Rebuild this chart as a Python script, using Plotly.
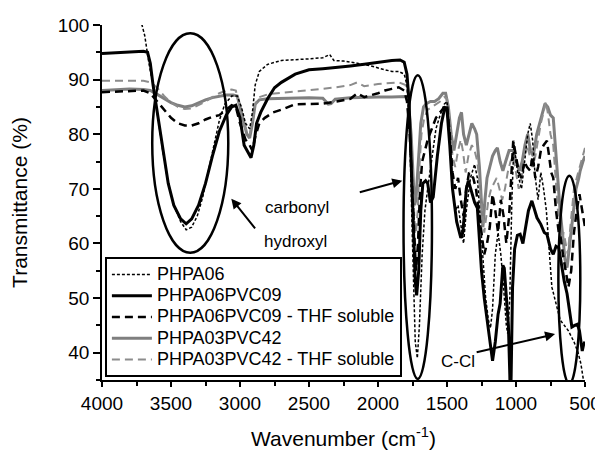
import plotly.graph_objects as go

# ---------------- data ----------------
phpa06_wn = [4000,3740,3710,3690,3660,3630,3600,3560,3520,3480,3430,3390,3350,3310,3270,3230,3190,3150,3110,3060,3020,2990,2960,2930,2910,2890,2860,2800,2700,2600,2500,2400,2350,2320,2250,2150,2050,1980,1900,1850,1810,1790,1770,1750,1730,1715,1700,1680,1660,1640,1610,1580,1550,1520,1500,1480,1460,1440,1420,1400,1380,1360,1330,1300,1280,1260,1240,1220,1200,1185,1170,1150,1130,1110,1090,1070,1060,1045,1030,1015,1000,980,960,940,915,897,880,860,840,820,800,780,760,740,720,700,680,650,620,580,550,530,515,505]
phpa06_t = [101,100.5,100,98,93,89,84,77,71,67,64,62.5,63,65,68.5,73,78,82.5,85.5,87,87,85,82,81,84,89,91.5,92.8,93.5,93.6,93.8,94,94.6,93.5,93.4,93,92.5,92,91.5,91.5,91,89,80,60,42,39,45,58,66,70,76,81,83.5,85.5,86,80,70,66,67,63,60,66,72,74.5,72,65,58,50,46,44.5,48,58,62,58,52,45,43.5,50,68,78.5,75,72,70,74,80,82,79,72,68,73,70,66,58,52,50,48,46,45,44,42,40,38,36,34]

pvc09_wn = [4000,3900,3800,3700,3670,3650,3630,3600,3560,3520,3480,3430,3390,3350,3300,3250,3200,3150,3100,3060,3030,3000,2970,2940,2920,2900,2880,2850,2800,2750,2700,2600,2500,2400,2300,2200,2100,2000,1900,1840,1810,1790,1775,1760,1745,1730,1720,1705,1690,1675,1655,1640,1620,1600,1570,1540,1515,1500,1480,1460,1430,1400,1385,1360,1345,1320,1300,1280,1265,1250,1230,1210,1190,1170,1150,1130,1115,1095,1085,1070,1055,1045,1040,1035,1025,1010,990,970,950,930,910,885,865,848,820,795,776,750,730,710,690,670,650,630,610,595,575,555,540,520,510,500]
pvc09_t = [94.8,94.9,95,95.2,95,93,89,84,77,71,67,64.5,63.6,64.5,67,71,76,80.5,83.5,85,85.3,83,78,76.5,75.7,78,82,84,86.5,88.5,89.5,91,91.8,92,92.2,92.5,92.8,93.2,93.5,93.6,93.2,91,86,75,62,53,50.5,55,66,71,71.5,71,67.5,68.5,76,82,85,84.5,78,70,64,61,62,70,71.5,69,67.5,66.5,60,55,50,46,42,38.5,42,47,49,56,55.5,51,45,36,30,36,52,59,61.5,61.7,60,63,66,67.8,66,64.7,63.5,62,61.7,59,58,59.5,59.2,56,53,50.8,47,44.7,45,45.2,44,40.3,41.5,42]

pvc09thf_wn = [4000,3900,3800,3700,3650,3600,3550,3500,3450,3400,3350,3300,3250,3200,3150,3100,3060,3030,3000,2960,2930,2910,2890,2860,2820,2760,2700,2600,2500,2400,2300,2200,2150,2100,2000,1950,1900,1850,1810,1790,1770,1750,1735,1725,1710,1695,1680,1660,1640,1610,1580,1550,1520,1500,1480,1460,1440,1420,1400,1380,1360,1340,1310,1290,1270,1250,1230,1210,1190,1170,1150,1130,1110,1090,1070,1050,1035,1020,1000,980,960,940,920,897,880,860,840,820,800,776,760,745,730,710,690,680,660,640,620,600,580,560,540,520,505,500]
pvc09thf_t = [87.7,87.8,88,88,87.5,86,84.5,83,82,81.6,81.6,82,82.7,83.2,83.5,84.5,85.3,85,82,79,78,77,79.5,82,83,84,84.5,85.5,85.6,85.6,86,86.5,87.5,86.8,87.5,88,88.3,88.6,88,86,80,68,58,55,60,70,75,77,79,81,83,84,85,85.5,80,73,70,72,68,65,70,73,72,70,66,62,58,60,63,69,66,62,68,65,60,65,73,78.8,76,73,72,75,74,73.3,76,72,74,77,78,78.8,76,73,72,66,62,61.7,58,55,52,55,62,66,69,66,64,63]

pvc42_wn = [4000,3900,3800,3700,3650,3600,3550,3500,3450,3400,3350,3300,3250,3200,3150,3100,3050,3020,3000,2970,2950,2930,2910,2890,2860,2800,2700,2600,2500,2400,2360,2340,2310,2200,2100,2000,1900,1800,1780,1760,1745,1735,1725,1710,1690,1670,1650,1620,1590,1560,1530,1510,1490,1470,1450,1430,1410,1395,1380,1360,1340,1320,1300,1285,1265,1250,1240,1225,1210,1190,1170,1150,1135,1115,1095,1075,1050,1020,1000,975,955,935,915,895,875,850,830,810,790,770,750,730,715,700,680,660,645,630,615,600,585,565,545,535,515,500]
pvc42_t = [88,88.2,88.3,88.2,88,87.3,86.5,85.8,85.3,85,85.2,85.8,86.3,86.7,87,87.2,87.2,87,85,82,80,79.3,82,85.5,86.3,86.5,86.6,86.7,86.7,86.6,85.5,85.6,86.4,86.7,86.8,86.8,86.8,86.9,86,80,72,67,68,75,82,85,85.6,86,86,86.5,87.5,87.5,85,80,77,80,83,84,80,78,80,82,81,80,74,66,63,68,72,74,76,77,77.5,75,73.3,75,77,77,75,73.3,75,78,80,77,76,80,82,84,85.6,85,83.5,83,78,72,66,61,57,55.6,59,63,66,70,72,73.3,75,76]

pvc42thf_wn = [4000,3900,3800,3700,3650,3600,3550,3500,3450,3400,3350,3300,3250,3200,3150,3100,3060,3030,3000,2970,2950,2930,2910,2890,2860,2800,2700,2600,2500,2400,2300,2200,2150,2100,2000,1900,1850,1800,1780,1765,1750,1735,1725,1712,1700,1685,1665,1640,1610,1580,1550,1520,1500,1480,1460,1440,1420,1400,1385,1365,1345,1320,1300,1280,1260,1245,1230,1215,1200,1180,1160,1140,1120,1100,1080,1060,1040,1020,1000,980,960,940,920,900,880,860,840,820,800,785,770,750,730,715,700,685,670,655,640,625,610,595,580,560,540,520,505,500]
pvc42thf_t = [89.8,89.8,89.9,89.8,89.5,88.5,87,85.8,85,84.6,84.7,85.3,86,86.8,87.5,88,88.2,88,85,81.5,80.5,80,82,85.5,86.8,87.3,87.6,87.8,88,88.3,88.6,89,89.5,88.8,89.2,89.4,89.5,89,87,82,74,64,62,66,74,80,83,84.5,85,85.5,86,86.8,86.5,82,76,74,77,79,77,73,76,78,77,75,70,66,62,65,68,70,71,72,70,68,70,73,75,76,73,70,72,76,78,76,74,76,79,82,84,86,84,80,78,72,66,62,60,62,60,58,62,66,70,72,74,76,77,77.5]

series_names = ["PHPA06", "PHPA06PVC09", "PHPA06PVC09 - THF soluble",
                "PHPA03PVC42", "PHPA03PVC42 - THF soluble"]
x_ticks = [4000, 3500, 3000, 2500, 2000, 1500, 1000, 500]
y_ticks = [40, 50, 60, 70, 80, 90, 100]

# ---------------- figure ----------------
FONT = "Liberation Sans, Arial, sans-serif"
fig = go.Figure()
styles = [
    dict(color="black", width=1.5, dash="3px,2px"),
    dict(color="black", width=3, dash="solid"),
    dict(color="black", width=2.5, dash="8px,5px"),
    dict(color="#7f7f7f", width=3, dash="solid"),
    dict(color="#8c8c8c", width=2, dash="8px,5px"),
]
data = [(phpa06_wn, phpa06_t), (pvc09_wn, pvc09_t), (pvc09thf_wn, pvc09thf_t),
        (pvc42_wn, pvc42_t), (pvc42thf_wn, pvc42thf_t)]
# draw gray first so black lines sit on top, but keep legend order
order = [3, 4, 2, 1, 0]
for i in order:
    wn, t = data[i]
    fig.add_trace(go.Scatter(x=wn, y=t, mode="lines",
                             name='<span style="font-size:18px">%s</span>' % series_names[i],
                             line=styles[i], legendrank=i + 1))

# ellipses
ell = dict(type="circle", xref="x", yref="y", line=dict(color="black", width=2.5))
fig.add_shape(x0=3636, x1=3085, y0=58.3, y1=98.5, **ell)
fig.add_shape(x0=1815, x1=1609, y0=35.2, y1=90.8, **ell)
fig.add_shape(x0=693, x1=534, y0=34.3, y1=72.4, **ell)

# arrows
arr = dict(showarrow=True, text="", xref="x", yref="y", axref="x", ayref="y",
           arrowhead=2, arrowsize=1, arrowwidth=2, arrowcolor="black")
fig.add_annotation(x=3063, y=68.2, ax=2882, ay=62.5, **arr)
fig.add_annotation(x=1824, y=71.5, ax=2143, ay=69.3, **arr)
fig.add_annotation(x=717, y=43.4, ax=1296, ay=40.0, **arr)

txt = dict(showarrow=False, xref="x", yref="y", font=dict(family=FONT, size=17, color="black"))
fig.add_annotation(x=2599, y=60.3, text="hydroxyl", **txt)
fig.add_annotation(x=2585, y=66.5, text="carbonyl", **txt)
fig.add_annotation(x=1418, y=38.3, text="C-Cl", **txt)

# the page body has an 8px margin, so the figure is 8px smaller than the window
fig.update_layout(
    width=595, height=442,
    margin=dict(l=94, r=18, t=17, b=70, autoexpand=False),
    paper_bgcolor="white", plot_bgcolor="white",
    font=dict(family=FONT, color="black"),
    showlegend=True,
    legend=dict(x=0.006, y=0.3465, xanchor="left", yanchor="top",
                bgcolor="white", bordercolor="black", borderwidth=2,
                font=dict(family=FONT, size=14, color="black"),
                itemwidth=40, tracegroupgap=0),
)
fig.update_xaxes(range=[4000, 500], tickvals=x_ticks, ticks="outside", ticklen=5,
                 tickwidth=1.5, tickcolor="black", showline=True, linecolor="black",
                 linewidth=1.5, showgrid=False, zeroline=False,
                 tickfont=dict(family=FONT, size=19, color="black"),
                 minor=dict(dtick=250, tick0=500, ticks="outside", ticklen=4,
                            tickcolor="black", tickwidth=1.5),
                 title=dict(text="Wavenumber (cm<sup>-1</sup>)", standoff=20,
                            font=dict(family=FONT, size=21, color="black")))
fig.update_yaxes(range=[35, 100], tickvals=y_ticks, ticks="outside", ticklen=7,
                 tickwidth=1.5, tickcolor="black", showline=True, linecolor="black",
                 linewidth=1.5, showgrid=False, zeroline=False,
                 tickfont=dict(family=FONT, size=19, color="black"),
                 minor=dict(dtick=5, tick0=0, ticks="outside", ticklen=4,
                            tickcolor="black", tickwidth=1.5),
                 title=dict(text="Transmittance (%)", standoff=30,
                            font=dict(family=FONT, size=21, color="black")))

fig.write_html("out.html")
